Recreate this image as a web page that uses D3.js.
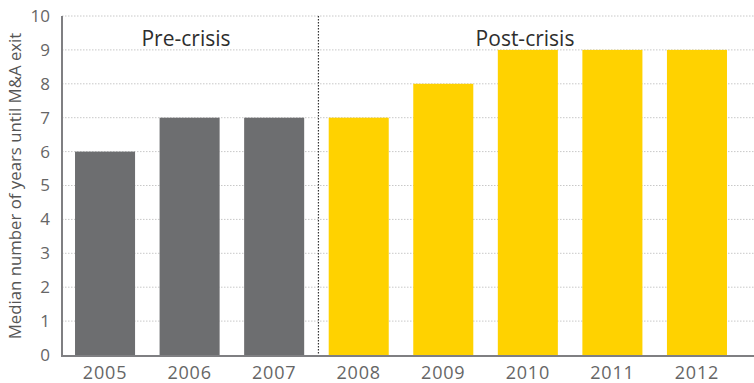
<!DOCTYPE html>
<html><head><meta charset="utf-8">
<script src="https://cdn.jsdelivr.net/npm/d3@7"></script>
<style>body{margin:0;background:#fff;}svg{display:block;font-family:"Open Sans",sans-serif;}</style>
</head><body><svg id="c" width="754" height="383"></svg>
<script>
const years = ["2005","2006","2007","2008","2009","2010","2011","2012"];
const values = [6,7,7,7,8,9,9,9];
const periods = ["pre","pre","pre","post","post","post","post","post"];
const yTicks = [0,1,2,3,4,5,6,7,8,9,10];
const periodLabels = [{key:"pre",text:"Pre-crisis"},{key:"post",text:"Post-crisis"}];
const colors = {pre:"#6d6e70", post:"#ffd200"};

const svg = d3.select("#c");
const mLeft = 62, mRight = 740, mTop = 16, mBottom = 355, fullRight = 754;
const x = d3.scaleBand().domain(years).range([mLeft, mRight]).paddingInner(0.29).paddingOuter(0.154);
const y = d3.scaleLinear().domain([0,10]).range([mBottom, mTop]);

// gridlines
svg.append("g").selectAll("line").data(yTicks.filter(d=>d>0)).join("line")
  .attr("x1", mLeft).attr("x2", fullRight)
  .attr("y1", d=>y(d)).attr("y2", d=>y(d))
  .attr("stroke", "#c8c8c8").attr("stroke-width", 1).attr("stroke-dasharray", "1.5,1.5");

// bars
svg.append("g").selectAll("rect").data(years).join("rect")
  .attr("x", d=>x(d)).attr("width", x.bandwidth())
  .attr("y", (d,i)=>y(values[i])).attr("height", (d,i)=>y(0)-y(values[i]))
  .attr("fill", (d,i)=>colors[periods[i]]);

// divider
const divX = (x("2007") + x.bandwidth() + x("2008")) / 2 + 2;
svg.append("line").attr("x1", divX).attr("x2", divX).attr("y1", mTop).attr("y2", mBottom)
  .attr("stroke", "#333").attr("stroke-width", 1.2).attr("stroke-dasharray", "1.5,1.5");

// period labels
periodLabels.forEach(p => {
  const cx = p.key === "pre" ? 186 : 525;
  svg.append("text").attr("x", cx).attr("y", 46).attr("text-anchor","middle")
    .attr("font-size", 21).attr("fill", "#2e2e2e").text(p.text);
});

// y axis
const yAxis = d3.axisLeft(y).tickValues(yTicks).tickSize(0).tickPadding(12);
const gy = svg.append("g").attr("transform", `translate(${mLeft},0)`).call(yAxis);
gy.select(".domain").remove();
gy.selectAll("text").attr("font-size", 17).attr("fill", "#666").attr("font-family", "'Open Sans',sans-serif");
svg.append("line").attr("x1", mLeft).attr("x2", mLeft).attr("y1", mTop).attr("y2", mBottom+1)
  .attr("stroke", "#7f7f82").attr("stroke-width", 2);

// x axis
const xAxis = d3.axisBottom(x).tickSize(0).tickPadding(11);
const gx = svg.append("g").attr("transform", `translate(0,${mBottom})`).call(xAxis);
gx.select(".domain").remove();
gx.selectAll("text").attr("font-size", 18).attr("letter-spacing", 0.8).attr("fill", "#666").attr("font-family", "'Open Sans',sans-serif");
svg.append("line").attr("x1", mLeft-1).attr("x2", fullRight).attr("y1", mBottom+1).attr("y2", mBottom+1)
  .attr("stroke", "#7f7f82").attr("stroke-width", 2);

// y title
svg.append("text").attr("transform", `translate(21,186) rotate(-90)`)
  .attr("text-anchor","middle").attr("font-size", 16.8).attr("fill", "#555")
  .text("Median number of years until M&A exit");
</script></body></html>
